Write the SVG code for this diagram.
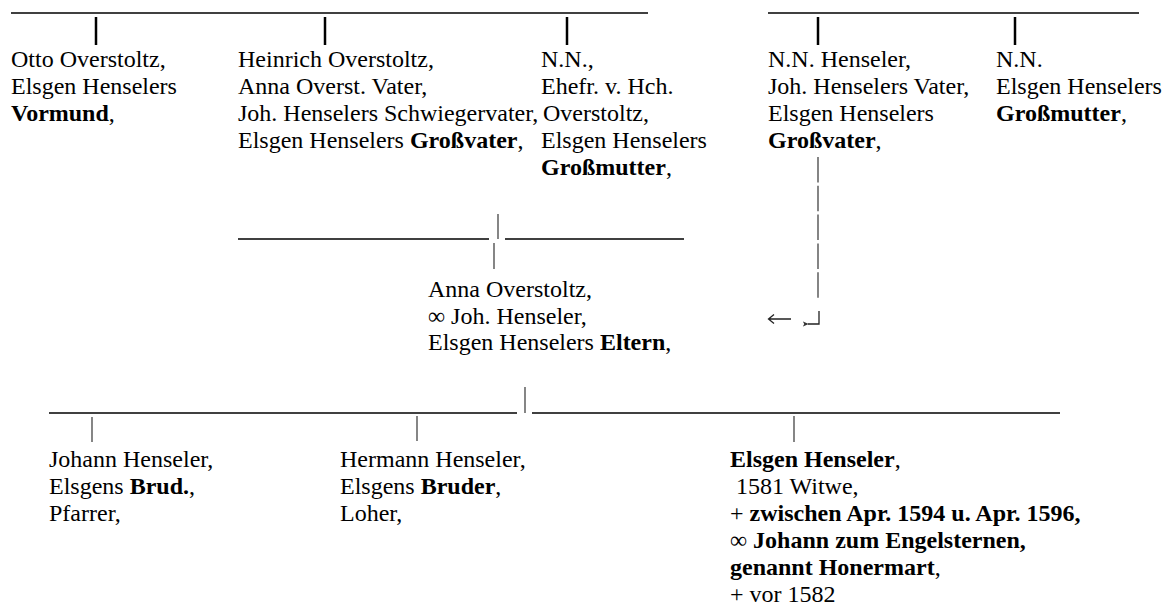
<svg xmlns="http://www.w3.org/2000/svg" width="1164" height="607" viewBox="0 0 1164 607">
<style>
text{font-family:"Liberation Serif","Times New Roman",serif;font-size:24px;fill:#000}
.b{font-weight:bold}
.h{stroke:#000;stroke-width:1.5;fill:none}
.vb{stroke:#000;stroke-width:2.5;fill:none}
.vt{stroke:#444;stroke-width:1.3;fill:none}
.ar{stroke:#222;stroke-width:1.3;fill:none}
</style>
<defs>
  <marker id="tipL" viewBox="0 0 8 8" refX="1" refY="4" markerWidth="6" markerHeight="6" orient="auto-start-reverse" markerUnits="userSpaceOnUse">
    <path d="M0 4 L8 0.5 L6 4 L8 7.5 Z" fill="#333"/>
  </marker>
</defs>
<rect width="1164" height="607" fill="#fff"/>
<g id="connectors">
  <line class="h" x1="11" y1="13" x2="648" y2="13"/>
  <line class="vb" x1="96" y1="17" x2="96" y2="45"/>
  <line class="vb" x1="325" y1="17" x2="325" y2="45"/>
  <line class="vb" x1="567" y1="17" x2="567" y2="45"/>
  <line class="h" x1="768" y1="13" x2="1139" y2="13"/>
  <line class="vb" x1="818" y1="17" x2="818" y2="45"/>
  <line class="vb" x1="1015" y1="17" x2="1015" y2="45"/>
  <line class="vt" x1="818" y1="157" x2="818" y2="298" stroke-dasharray="25.5 3.3"/>
  <line class="h" x1="238" y1="239" x2="489" y2="239"/>
  <line class="vt" x1="498" y1="214" x2="498" y2="239"/>
  <line class="h" x1="505" y1="239" x2="684" y2="239"/>
  <line class="vt" x1="494" y1="243" x2="494" y2="269"/>
  <line class="h" x1="49" y1="413" x2="517" y2="413"/>
  <line class="vt" x1="525" y1="387" x2="525" y2="413"/>
  <line class="h" x1="532" y1="413" x2="1060" y2="413"/>
  <line class="vt" x1="92" y1="417" x2="92" y2="442"/>
  <line class="vt" x1="417" y1="416" x2="417" y2="441"/>
  <line class="vt" x1="794" y1="416" x2="794" y2="442"/>
  <path class="ar" d="M791 319 H769 M774 314.5 L768.5 319 L774 323.5"/>
  <path class="ar" d="M819 311 V324 H808" marker-end="url(#tipL)"/>
</g>
<g id="otto">
  <text x="11" y="67">Otto Overstoltz,</text>
  <text x="11" y="94">Elsgen Henselers</text>
  <text x="11" y="121"><tspan class="b">Vormund</tspan>,</text>
</g>
<g id="heinrich">
  <text x="238" y="67">Heinrich Overstoltz,</text>
  <text x="238" y="94">Anna Overst. Vater,</text>
  <text x="238" y="121">Joh. Henselers Schwiegervater,</text>
  <text x="238" y="148">Elsgen Henselers <tspan class="b">Großvater</tspan>,</text>
</g>
<g id="nn-overstoltz">
  <text x="541" y="67">N.N.,</text>
  <text x="541" y="94">Ehefr. v. Hch.</text>
  <text x="543" y="121">Overstoltz,</text>
  <text x="541" y="148">Elsgen Henselers</text>
  <text x="541" y="175"><tspan class="b">Großmutter</tspan>,</text>
</g>
<g id="nn-henseler">
  <text x="768" y="67">N.N. Henseler,</text>
  <text x="768" y="94">Joh. Henselers Vater,</text>
  <text x="768" y="121">Elsgen Henselers</text>
  <text x="768" y="148"><tspan class="b">Großvater</tspan>,</text>
</g>
<g id="nn-grossmutter">
  <text x="996" y="67">N.N.</text>
  <text x="996" y="94">Elsgen Henselers</text>
  <text x="996" y="121"><tspan class="b">Großmutter</tspan>,</text>
</g>
<g id="anna">
  <text x="428" y="297">Anna Overstoltz,</text>
  <text x="428" y="324">∞ Joh. Henseler,</text>
  <text x="428" y="350">Elsgen Henselers <tspan class="b">Eltern</tspan>,</text>
</g>
<g id="johann">
  <text x="49" y="467">Johann Henseler,</text>
  <text x="49" y="494">Elsgens <tspan class="b">Brud.</tspan>,</text>
  <text x="49" y="521">Pfarrer,</text>
</g>
<g id="hermann">
  <text x="340" y="467">Hermann Henseler,</text>
  <text x="340" y="494">Elsgens <tspan class="b">Bruder</tspan>,</text>
  <text x="340" y="521">Loher,</text>
</g>
<g id="elsgen">
  <text x="730" y="467"><tspan class="b">Elsgen Henseler</tspan>,</text>
  <text x="736" y="494">1581 Witwe,</text>
  <text x="730" y="521">+ <tspan class="b">zwischen Apr. 1594 u. Apr. 1596,</tspan></text>
  <text x="730" y="548">∞ <tspan class="b">Johann zum Engelsternen,</tspan></text>
  <text x="730" y="575"><tspan class="b">genannt Honermart</tspan>,</text>
  <text x="730" y="602">+ vor 1582</text>
</g>
</svg>
